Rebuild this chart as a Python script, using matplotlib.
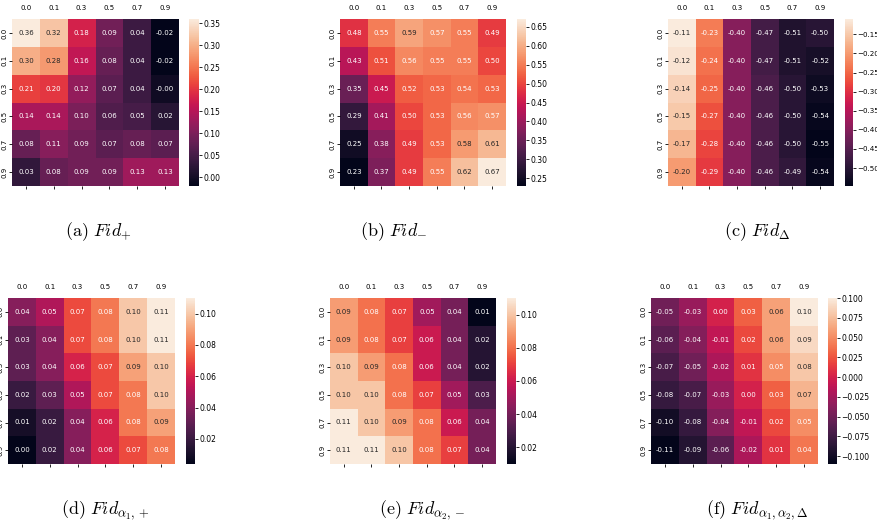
import matplotlib
matplotlib.use("Agg")
import matplotlib.pyplot as plt
from matplotlib.ticker import MultipleLocator
import seaborn as sns
import numpy as np

labels = ["0.0", "0.1", "0.3", "0.5", "0.7", "0.9"]

fid_plus = [[0.36, 0.32, 0.18, 0.09, 0.04, -0.02],
            [0.30, 0.28, 0.16, 0.08, 0.04, -0.02],
            [0.21, 0.20, 0.12, 0.07, 0.04, -0.004],
            [0.14, 0.14, 0.10, 0.06, 0.05, 0.02],
            [0.08, 0.11, 0.09, 0.07, 0.08, 0.07],
            [0.03, 0.08, 0.09, 0.09, 0.13, 0.13]]

fid_minus = [[0.48, 0.55, 0.59, 0.57, 0.55, 0.49],
             [0.43, 0.51, 0.56, 0.55, 0.55, 0.50],
             [0.35, 0.45, 0.52, 0.53, 0.54, 0.53],
             [0.29, 0.41, 0.50, 0.53, 0.56, 0.57],
             [0.25, 0.38, 0.49, 0.53, 0.58, 0.61],
             [0.23, 0.37, 0.49, 0.55, 0.62, 0.67]]

fid_delta = [[-0.11, -0.23, -0.40, -0.47, -0.51, -0.50],
             [-0.12, -0.24, -0.40, -0.47, -0.51, -0.52],
             [-0.14, -0.25, -0.40, -0.46, -0.50, -0.53],
             [-0.15, -0.27, -0.40, -0.46, -0.50, -0.54],
             [-0.17, -0.28, -0.40, -0.46, -0.50, -0.547],
             [-0.20, -0.29, -0.40, -0.46, -0.49, -0.54]]

fid_a1_plus = [[0.04, 0.05, 0.07, 0.08, 0.10, 0.11],
               [0.03, 0.04, 0.07, 0.08, 0.10, 0.11],
               [0.03, 0.04, 0.06, 0.07, 0.09, 0.10],
               [0.02, 0.03, 0.05, 0.07, 0.08, 0.10],
               [0.01, 0.02, 0.04, 0.06, 0.08, 0.09],
               [0.004, 0.02, 0.04, 0.06, 0.07, 0.08]]

fid_a2_minus = [[0.09, 0.08, 0.07, 0.05, 0.04, 0.01],
                [0.09, 0.08, 0.07, 0.06, 0.04, 0.02],
                [0.10, 0.09, 0.08, 0.06, 0.04, 0.02],
                [0.10, 0.10, 0.08, 0.07, 0.05, 0.03],
                [0.11, 0.10, 0.09, 0.08, 0.06, 0.04],
                [0.11, 0.11, 0.10, 0.08, 0.07, 0.04]]

fid_a12_delta = [[-0.05, -0.03, 0.00, 0.03, 0.06, 0.10],
                 [-0.06, -0.04, -0.01, 0.02, 0.06, 0.09],
                 [-0.07, -0.05, -0.02, 0.01, 0.05, 0.08],
                 [-0.08, -0.07, -0.03, 0.00, 0.03, 0.07],
                 [-0.10, -0.08, -0.04, -0.01, 0.02, 0.05],
                 [-0.11, -0.09, -0.06, -0.02, 0.01, 0.04]]

captions = [r"$\mathrm{(a)}\ Fid_{+}$", r"$\mathrm{(b)}\ Fid_{-}$",
            r"$\mathrm{(c)}\ Fid_{\Delta}$",
            r"$\mathrm{(d)}\ Fid_{\alpha_1,+}$", r"$\mathrm{(e)}\ Fid_{\alpha_2,-}$",
            r"$\mathrm{(f)}\ Fid_{\alpha_1,\alpha_2,\Delta}$"]

# colorbar tick spacing of each panel
cbar_steps = [0.05, 0.05, 0.05, 0.02, 0.02, 0.025]

W, H = 878, 529
# pixel boxes: heatmap (x0, x1, y0, y1), colorbar (x0, x1), caption center x, caption y
panels = [
    (fid_plus, (12, 179, 19, 186), (189, 199), 98, 232),
    (fid_minus, (340, 506, 19, 186), (517, 526), 394, 232),
    (fid_delta, (668, 834, 19, 186), (845, 853), 757, 232),
    (fid_a1_plus, (8, 175, 298, 464), (186, 195), 105, 510),
    (fid_a2_minus, (330, 496, 298, 464), (507, 516), 422, 510),
    (fid_a12_delta, (651, 818, 298, 464), (828, 837), 757, 510),
]

plt.rcParams["mathtext.fontset"] = "cm"

fig = plt.figure(figsize=(W / 100, H / 100), dpi=100)

for (data, box, cb, cx, cy), cap, step in zip(panels, captions, cbar_steps):
    x0, x1, y0, y1 = box
    ax = fig.add_axes([x0 / W, 1 - y1 / H, (x1 - x0) / W, (y1 - y0) / H])
    cax = fig.add_axes([cb[0] / W, 1 - y1 / H, (cb[1] - cb[0]) / W, (y1 - y0) / H])
    sns.heatmap(np.array(data), ax=ax, cbar_ax=cax, annot=True, fmt=".2f",
                annot_kws={"size": 5}, xticklabels=labels, yticklabels=labels)
    ax.tick_params(axis="x", labeltop=True, labelbottom=False, labelsize=5,
                   length=2, width=0.6, pad=3.5)
    ax.tick_params(axis="y", labelsize=5, length=2, width=0.6, pad=1)
    plt.setp(ax.get_xticklabels(), rotation=0)
    plt.setp(ax.get_yticklabels(), rotation=90, va="center")
    cax.yaxis.set_major_locator(MultipleLocator(step))
    cb_size = 5.1 if cb[1] > 850 else 5.5
    cax.tick_params(labelsize=cb_size, length=2, width=0.6, pad=1)
    cax.tick_params(which="minor", length=0)
    fig.text(cx / W, 1 - cy / H, cap, ha="center", va="center", fontsize=13)

fig.savefig("out.png", dpi=100)
